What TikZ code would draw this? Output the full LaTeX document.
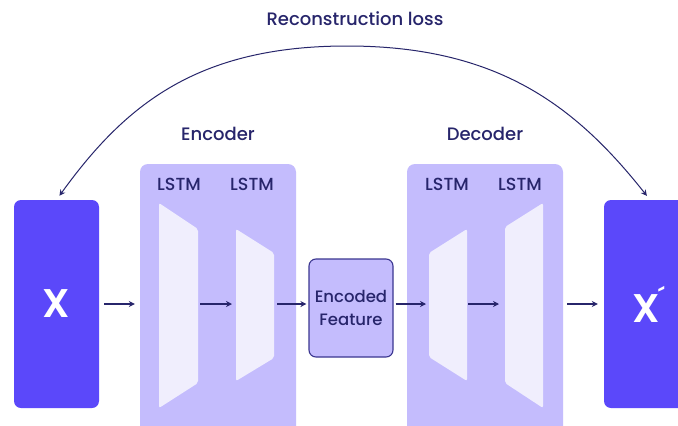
\documentclass[tikz,border=0pt]{standalone}
\usepackage{fontspec}
\setmainfont{Poppins Medium}
\newfontfamily\heavy{Poppins SemiBold}
\usetikzlibrary{arrows.meta}
\definecolor{ink}{HTML}{27256B}
\definecolor{vivid}{HTML}{5B48FA}
\definecolor{lilac}{HTML}{C4BCFD}
\definecolor{pale}{HTML}{F0EEFD}
\definecolor{edge}{HTML}{3B3690}
\tikzset{
  databox/.style={fill=vivid, rounded corners=7pt, minimum width=85pt, minimum height=208pt,
    text=white, font=\heavy\fontsize{40}{40}\selectfont, inner sep=0pt},
  stage/.style={fill=lilac, rounded corners=8pt, minimum width=156pt, minimum height=290pt, inner sep=0pt},
  layer/.style={fill=pale, rounded corners=2pt},
  heading/.style={text=ink, font=\fontsize{18}{20}\selectfont},
  lstmlabel/.style={text=ink, font=\fontsize{17.5}{19}\selectfont},
  flow/.style={draw=ink, line width=1.1pt, -{Stealth[length=6pt,width=6pt]}},
}
\begin{document}
\begin{tikzpicture}[x=1pt,y=-1pt]
\useasboundingbox (0,0) rectangle (678,426);
\clip (0,0) rectangle (678,426);
\fill[white] (0,0) rectangle (678,426);

% input and output blocks
\node[databox] (x) at (56.5,304) {X};
\node[databox] (xp) at (646.5,304)
  {X\rlap{\kern-2pt\raisebox{15pt}{\fontsize{26}{26}\selectfont\mdseries ´}}};

% encoder and decoder panels
\node[stage] (enc) at (218,309) {};
\node[stage] (dec) at (485,309) {};

% LSTM layers
\fill[layer] (159,203) -- (198,229) -- (198,383) -- (159,408) -- cycle;
\fill[layer] (236,229) -- (274,253) -- (274,358) -- (236,381) -- cycle;
\fill[layer] (429,253) -- (467,229) -- (467,381) -- (429,357) -- cycle;
\fill[layer] (505,227) -- (543,203) -- (543,408) -- (505,383) -- cycle;
\coordinate (e1r) at (198,304);
\coordinate (e2l) at (236,304);
\coordinate (e2r) at (274,304);
\coordinate (d1l) at (429,304);
\coordinate (d1r) at (467,304);
\coordinate (d2l) at (505,304);

% bottleneck
\node[draw=edge, fill=lilac, line width=1.1pt, rounded corners=7pt, minimum width=84pt,
  minimum height=98pt, align=center, text=ink, font=\fontsize{16.5}{23}\selectfont] (feat) at (351,308)
  {Encoded\\Feature};

% labels
\node[heading] (title) at (355,19) {Reconstruction loss};
\node[heading] (enct) at (218,134) {Encoder};
\node[heading] (dect) at (485,134) {Decoder};
\node[lstmlabel] (l1) at (179,184) {LSTM};
\node[lstmlabel] (l2) at (252,184) {LSTM};
\node[lstmlabel] (l3) at (447,184) {LSTM};
\node[lstmlabel] (l4) at (520,184) {LSTM};

% data flow
\draw[flow, shorten <=5pt, shorten >=5pt] (x.east) -- (x.east -| enc.west);
\draw[flow, shorten <=2pt, shorten >=4pt] (e1r) -- (e2l);
\draw[flow, shorten <=3pt, shorten >=2pt] (e2r) -- (feat.west |- e2r);
\draw[flow, shorten <=2pt, shorten >=3pt] (feat.east |- d1l) -- (d1l);
\draw[flow, shorten <=1pt, shorten >=6pt] (d1r) -- (d2l);
\draw[flow, shorten <=4pt, shorten >=6pt] (dec.east |- xp.west) -- (xp.west);

% reconstruction loss arc
\coordinate (apex) at (347,46);
\draw[draw=ink, line width=1pt, {Stealth[length=6pt,width=6pt]}-{Stealth[length=6pt,width=6pt]},
  shorten <=5pt, shorten >=5pt]
  (x.north) .. controls (125,105) and (197,46) .. (apex)
  .. controls (497,46) and (575,105) .. (x.north -| 650,0);
\end{tikzpicture}
\end{document}
